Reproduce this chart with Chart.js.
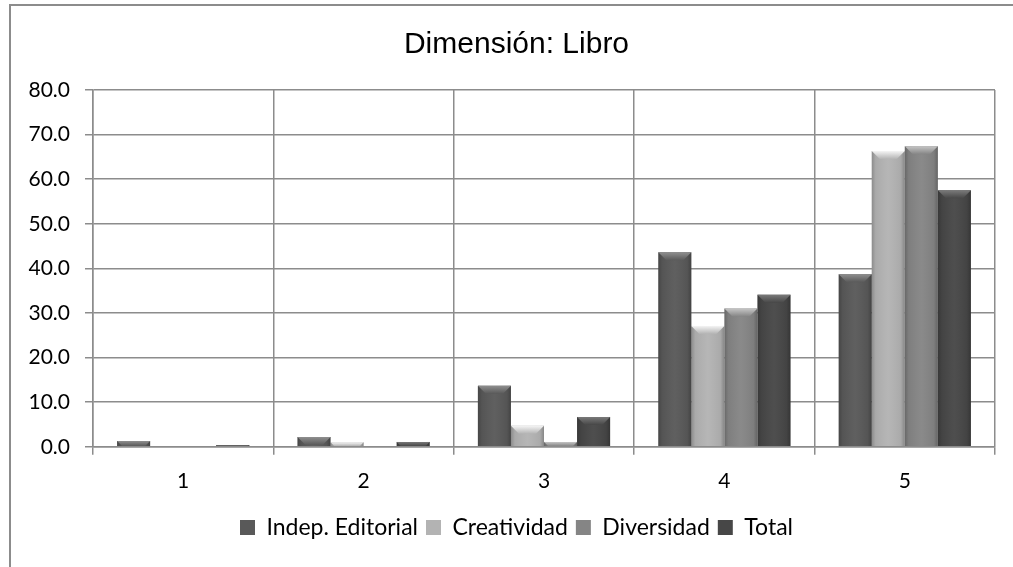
<!DOCTYPE html>
<html><head><meta charset="utf-8">
<script src="https://cdn.jsdelivr.net/npm/chart.js@4.4.1/dist/chart.umd.min.js"></script>
<style>
html,body{margin:0;padding:0;background:#fff;overflow:hidden;}
#wrap{position:relative;width:1013px;height:567px;}
#frame{position:absolute;left:9px;top:4px;right:-5px;bottom:-5px;border-top:2px solid #8c8c8c;border-left:2px solid #8c8c8c;pointer-events:none;}
canvas{position:absolute;left:0;top:0;}
</style></head><body>
<div id="wrap"><canvas id="c" width="1013" height="567"></canvas><div id="frame"></div></div>
<script>
const categories = ['1', '2', '3', '4', '5'];
const seriesNames = ['Indep. Editorial', 'Creatividad', 'Diversidad', 'Total'];
const indepEditorial = [1.3, 2.2, 13.7, 43.6, 38.7];
const creatividad = [0.0, 1.0, 4.7, 27.1, 66.3];
const diversidad = [0.0, 0.0, 1.1, 31.0, 67.4];
const total = [0.4, 1.1, 6.7, 34.1, 57.5];
const yTickValues = [0, 10, 20, 30, 40, 50, 60, 70, 80];

const faceColors = ['#595959', '#b3b3b3', '#858585', '#474747'];
const bevelColors = ['#8f8f8f', '#f4f4f4', '#c6c6c6', '#7a7a7a'];
const seriesValues = [indepEditorial, creatividad, diversidad, total];

const bevelPlugin = {
  id: 'bevel',
  afterDatasetsDraw(chart) {
    const ctx = chart.ctx;
    chart.data.datasets.forEach((ds, di) => {
      const meta = chart.getDatasetMeta(di);
      meta.data.forEach((bar) => {
        const h = bar.base - bar.y;
        if (h <= 0.5) return;
        const l = bar.x - bar.width / 2, r = bar.x + bar.width / 2;
        ctx.save();
        const g = ctx.createLinearGradient(l, 0, r, 0);
        g.addColorStop(0, 'rgba(0,0,0,0.22)');
        g.addColorStop(0.12, 'rgba(0,0,0,0.05)');
        g.addColorStop(0.5, 'rgba(255,255,255,0.04)');
        g.addColorStop(0.88, 'rgba(0,0,0,0.05)');
        g.addColorStop(1, 'rgba(0,0,0,0.25)');
        ctx.fillStyle = g;
        ctx.fillRect(l, bar.y, r - l, h);
        const b = Math.min(8, h);
        const tg = ctx.createLinearGradient(0, bar.y, 0, bar.y + b);
        tg.addColorStop(0, bevelColors[di]);
        tg.addColorStop(1, faceColors[di]);
        ctx.fillStyle = tg;
        ctx.beginPath();
        ctx.moveTo(l, bar.y);
        ctx.lineTo(r, bar.y);
        ctx.lineTo(r - b, bar.y + b);
        ctx.lineTo(l + b, bar.y + b);
        ctx.closePath();
        ctx.fill();
        ctx.restore();
      });
    });
  }
};

new Chart(document.getElementById('c'), {
  type: 'bar',
  data: {
    labels: categories,
    datasets: seriesNames.map((n, i) => ({
      label: n,
      data: seriesValues[i],
      backgroundColor: faceColors[i],
      borderWidth: 0,
      barPercentage: 1.0,
      categoryPercentage: 0.733,
      yAxisID: 'y'
    }))
  },
  plugins: [bevelPlugin],
  options: {
    responsive: false,
    animation: false,
    devicePixelRatio: 1,
    layout: { padding: { left: 20, right: 0, top: 27, bottom: 18 } },
    plugins: {
      tooltip: { enabled: false },
      title: {
        display: true,
        text: 'Dimensión: Libro',
        color: '#000',
        font: { family: 'Liberation Sans', size: 30, weight: 'normal' },
        padding: { top: 0, bottom: 27 }
      },
      legend: {
        position: 'bottom',
        labels: {
          color: '#000',
          font: { family: 'Lato', size: 23 },
          boxWidth: 15,
          boxHeight: 15,
          padding: 8
        }
      }
    },
    scales: {
      x: {
        grid: { offset: true, color: '#8c8c8c', lineWidth: 1.5, tickLength: 8, drawTicks: true },
        border: { color: '#8c8c8c', width: 1.5 },
        ticks: { color: '#000', font: { family: 'Lato', size: 21 }, padding: 14 }
      },
      y: {
        position: 'left',
        min: 0, max: 80,
        afterBuildTicks: (s) => { s.ticks = yTickValues.map(v => ({ value: v })); },
        afterFit: (s) => { s.width = 73; },
        grid: { color: '#8c8c8c', lineWidth: 1.5, tickLength: 8 },
        border: { color: '#8c8c8c', width: 1.5 },
        ticks: { color: '#000', font: { family: 'Lato', size: 21 }, padding: 15, callback: (v) => Number(v).toFixed(1) }
      },
      y2: {
        position: 'right',
        display: true,
        min: 0, max: 80,
        afterFit: (s) => { s.width = 18; },
        grid: { display: false, drawTicks: false },
        border: { display: false },
        ticks: { display: false }
      }
    }
  }
});
</script>
</body></html>
